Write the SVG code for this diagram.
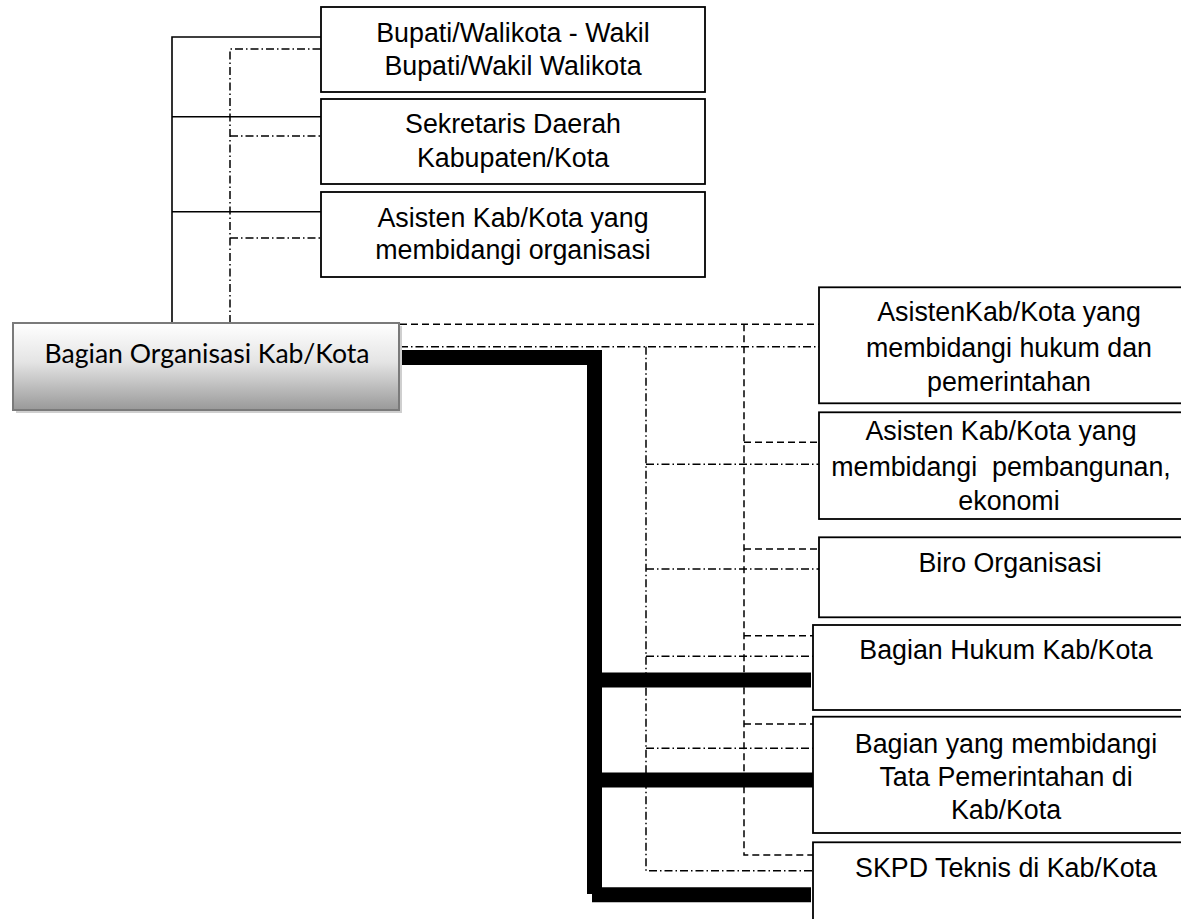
<svg xmlns="http://www.w3.org/2000/svg" width="1181" height="919" viewBox="0 0 1181 919">
  <style>
    .box { fill: #ffffff; stroke: #000000; stroke-width: 1.8; }
    .lbl { font-family: "Liberation Sans", Arial, sans-serif; font-size: 26.8px; fill: #000000; text-anchor: middle; white-space: pre; }
    .main { font-family: Lato, "Open Sans", sans-serif; font-size: 26.6px; fill: #000000; text-anchor: middle; }
    .solid { fill: none; stroke: #000000; stroke-width: 1.6; }
    .dash { fill: none; stroke: #000000; stroke-width: 1.5; stroke-dasharray: 7 4; }
    .dashdot { fill: none; stroke: #000000; stroke-width: 1.5; stroke-dasharray: 8 3 1.5 3; }
    .thick { fill: none; stroke: #000000; stroke-width: 15; stroke-linejoin: miter; }
  </style>
  <defs>
    <linearGradient id="mainFill" x1="0" y1="0" x2="0" y2="1">
      <stop offset="0" stop-color="#ffffff"/>
      <stop offset="0.45" stop-color="#e4e4e4"/>
      <stop offset="1" stop-color="#999999"/>
    </linearGradient>
  </defs>

  <rect width="1181" height="919" fill="#ffffff"/>

  <!-- connectors -->
  <g id="connectors">
    <!-- upper solid bracket -->
    <path class="solid" d="M172 412 V37 H321 M172 116.7 H321 M172 211.7 H321"/>
    <!-- upper dash-dot bracket -->
    <path class="dashdot" d="M230 323 V49 H321 M230 136 H321 M230 238 H321"/>
    <!-- dashed coordination lines -->
    <path class="dash" d="M400 324.3 H819"/>
    <path class="dash" d="M744 324.3 V855 H813 M744 442.3 H819 M744 549 H819 M744 635.7 H813 M744 724 H813"/>
    <!-- dash-dot coordination lines -->
    <path class="dashdot" d="M400 346.7 H819"/>
    <path class="dashdot" d="M646 346.7 V870.7 H813 M646 464.3 H819 M646 569 H819 M646 656.3 H813 M646 748.3 H813"/>
    <!-- heavy command lines -->
    <path class="thick" d="M400 357.5 H594.5 V894"/>
    <path class="thick" d="M594.5 680 H811"/>
    <path class="thick" d="M594.5 780 H813"/>
    <path class="thick" d="M592 894.8 H811"/>
  </g>

  <!-- main unit -->
  <g id="node-bagian-organisasi">
    <rect x="16" y="326" width="386" height="87" fill="#cfcfcf"/>
    <rect x="13" y="323" width="386" height="87" fill="url(#mainFill)" stroke="#7a7a7a" stroke-width="2"/>
    <text class="main" x="207" y="363">Bagian Organisasi Kab/Kota</text>
  </g>

  <!-- upper boxes -->
  <g id="node-bupati">
    <rect class="box" x="321" y="7" width="384" height="85"/>
    <text class="lbl" x="513" y="41.7">Bupati/Walikota - Wakil</text>
    <text class="lbl" x="513" y="75">Bupati/Wakil Walikota</text>
  </g>
  <g id="node-sekda">
    <rect class="box" x="321" y="99" width="384" height="85"/>
    <text class="lbl" x="513" y="132.7">Sekretaris Daerah</text>
    <text class="lbl" x="513" y="166.7">Kabupaten/Kota</text>
  </g>
  <g id="node-asisten-organisasi">
    <rect class="box" x="321" y="192" width="384" height="85"/>
    <text class="lbl" x="513" y="226.5">Asisten Kab/Kota yang</text>
    <text class="lbl" x="513" y="259">membidangi organisasi</text>
  </g>

  <!-- right column boxes -->
  <g id="node-asisten-hukum">
    <rect class="box" x="819" y="287.3" width="381" height="116"/>
    <text class="lbl" x="1009" y="320.7">AsistenKab/Kota yang</text>
    <text class="lbl" x="1009" y="356.5">membidangi hukum dan</text>
    <text class="lbl" x="1009" y="391">pemerintahan</text>
  </g>
  <g id="node-asisten-pembangunan">
    <rect class="box" x="819" y="412.3" width="381" height="106.7"/>
    <text class="lbl" x="1001" y="440">Asisten Kab/Kota yang</text>
    <text class="lbl" x="1001" y="475.5">membidangi  pembangunan,</text>
    <text class="lbl" x="1009" y="510">ekonomi</text>
  </g>
  <g id="node-biro-organisasi">
    <rect class="box" x="819" y="537.3" width="381" height="80"/>
    <text class="lbl" x="1010" y="571.7">Biro Organisasi</text>
  </g>
  <g id="node-bagian-hukum">
    <rect class="box" x="813" y="625" width="387" height="85"/>
    <text class="lbl" x="1006" y="659.3">Bagian Hukum Kab/Kota</text>
  </g>
  <g id="node-bagian-tapem">
    <rect class="box" x="813" y="716.7" width="387" height="116.3"/>
    <text class="lbl" x="1006" y="753.3">Bagian yang membidangi</text>
    <text class="lbl" x="1006" y="785.5">Tata Pemerintahan di</text>
    <text class="lbl" x="1006" y="819">Kab/Kota</text>
  </g>
  <g id="node-skpd-teknis">
    <rect class="box" x="813" y="842.3" width="387" height="90"/>
    <text class="lbl" x="1006" y="876.7">SKPD Teknis di Kab/Kota</text>
  </g>
</svg>
